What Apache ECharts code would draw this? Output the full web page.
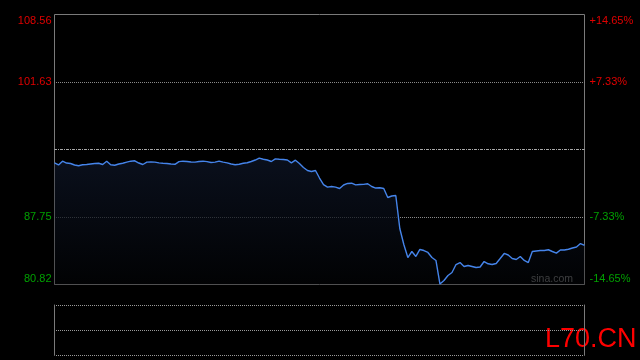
<!DOCTYPE html>
<html><head><meta charset="utf-8">
<script src="https://cdn.jsdelivr.net/npm/echarts@6/dist/echarts.min.js"></script>
<style>html,body{margin:0;padding:0;background:#000}#c{width:640px;height:360px}</style>
</head><body><div id="c"></div>
<script>
const prevClose = 94.69;
const tickStep = 6.935;
const prices = [
93.32, 93.10, 93.49, 93.30, 93.25, 93.10, 93.02, 93.12, 93.15, 93.20,
93.25, 93.28, 93.15, 93.49, 93.12, 93.07, 93.20, 93.28, 93.39, 93.49,
93.53, 93.30, 93.15, 93.39, 93.41, 93.39, 93.32, 93.28, 93.25, 93.20,
93.17, 93.44, 93.49, 93.46, 93.41, 93.39, 93.46, 93.49, 93.44, 93.35,
93.39, 93.49, 93.39, 93.32,
93.20, 93.12, 93.18, 93.28, 93.33, 93.46, 93.61, 93.80, 93.69, 93.61,
93.46, 93.73, 93.69, 93.66, 93.61, 93.32, 93.59, 93.25, 92.84, 92.53,
92.43, 92.53, 91.76, 91.09, 90.82, 90.89, 90.82, 90.68, 91.04, 91.20,
91.23, 91.06, 91.09, 91.11, 91.17, 90.89, 90.73, 90.76, 90.68, 89.76,
89.91, 89.96, 86.57, 84.93, 83.59, 84.21, 83.70, 84.42, 84.31, 84.11,
83.59, 83.29, 80.87, 81.23, 81.75, 82.05, 82.87, 83.08, 82.67, 82.77,
82.67, 82.57, 82.62, 83.18, 82.95, 82.87, 82.98, 83.49, 84.01, 83.85,
83.49, 83.39, 83.70, 83.29, 83.08, 84.21, 84.26, 84.31, 84.31, 84.39,
84.21, 84.04, 84.37, 84.37, 84.44, 84.57, 84.67, 85.03, 84.85
];
const categories = prices.map((_, i) => String(i));
const leftTickLabels = ['80.82', '87.75', '', '101.63', '108.56'];
const rightTickLabels = ['-14.65%', '-7.33%', '', '+7.33%', '+14.65%'];

const RED = '#e00000', GREEN = '#00a000';
const units = prices.map(p => (p - prevClose) / tickStep);

function makeFormatter(labels) {
  return function (v) {
    const i = Math.round(v) + 2;
    const t = labels[i];
    if (!t) return '';
    if (i === 4) return '{top|' + t + '}';
    if (i === 0) return '{bot|' + t + '}';
    return '{' + (i > 2 ? 'r' : 'g') + '|' + t + '}';
  };
}
const labelFont = { fontSize: 11, fontFamily: 'Liberation Sans, Arial, sans-serif' };
const rich = {
  top: Object.assign({ color: RED, padding: [12, 0, 0, 0] }, labelFont),
  bot: Object.assign({ color: GREEN, padding: [0, 0, 12, 0] }, labelFont),
  r: Object.assign({ color: RED }, labelFont),
  g: Object.assign({ color: GREEN }, labelFont)
};

const chart = echarts.init(document.getElementById('c'), null, { renderer: 'canvas' });
chart.setOption({
  backgroundColor: '#000',
  animation: false,
  grid: [
    { left: 54.5, top: 14.5, width: 530, height: 270, show: true, borderColor: '#7a7a7a', borderWidth: 1, backgroundColor: 'transparent' },
    { left: 54.5, top: 305, width: 530, height: 50, show: false }
  ],
  xAxis: [
    { type: 'category', gridIndex: 0, data: categories, boundaryGap: false, axisLine: { show: false }, axisTick: { show: false }, axisLabel: { show: false }, splitLine: { show: false } },
    { type: 'category', gridIndex: 1, data: categories, boundaryGap: false, axisLine: { show: false }, axisTick: { show: false }, axisLabel: { show: false }, splitLine: { show: false } }
  ],
  yAxis: [
    { type: 'value', gridIndex: 0, position: 'left', min: -2, max: 2, interval: 1,
      axisLine: { show: false }, axisTick: { show: false },
      axisLabel: { margin: 3, formatter: makeFormatter(leftTickLabels), rich: rich },
      splitLine: { show: true, lineStyle: { color: ['transparent', '#8a8a8a', 'transparent', '#8a8a8a', 'transparent'], type: [1, 1], dashOffset: 0.5, width: 1 } } },
    { type: 'value', gridIndex: 0, position: 'right', min: -2, max: 2, interval: 1,
      axisLine: { show: false }, axisTick: { show: false },
      axisLabel: { margin: 5, formatter: makeFormatter(rightTickLabels), rich: rich },
      splitLine: { show: false } },
    { type: 'value', gridIndex: 1, position: 'left', min: 0, max: 2, interval: 1,
      axisLine: { show: true, lineStyle: { color: '#7a7a7a', width: 1 } }, axisTick: { show: false }, axisLabel: { show: false },
      splitLine: { show: true, lineStyle: { color: '#9a9a9a', type: [1, 1], dashOffset: 0.5, width: 1 } } },
    { type: 'value', gridIndex: 1, position: 'right', min: 0, max: 2, interval: 1,
      axisLine: { show: true, lineStyle: { color: '#7a7a7a', width: 1 } }, axisTick: { show: false }, axisLabel: { show: false },
      splitLine: { show: false } }
  ],
  series: [
    { type: 'line', xAxisIndex: 0, yAxisIndex: 0, data: units, symbol: 'none', smooth: false,
      lineStyle: { color: '#4584ea', width: 1.4 },
      areaStyle: { origin: 'start', color: new echarts.graphic.LinearGradient(0, 0, 0, 1, [
        { offset: 0, color: '#0e1628' }, { offset: 1, color: '#020305' }]) },
      markLine: { silent: true, symbol: 'none', label: { show: false },
        lineStyle: { color: '#a8a8a8', type: [3, 1, 1, 1], dashOffset: 0.5, width: 1 },
        data: [{ yAxis: 0 }] } }
  ],
  graphic: [
    { type: 'text', x: 573, y: 279, style: { text: 'sina.com', align: 'right', verticalAlign: 'middle', textAlign: 'right', textVerticalAlign: 'middle', fill: '#c0c0c0', font: '10.5px "Liberation Sans", Arial, sans-serif' } },
    { type: 'text', x: 545, y: 340, style: { text: 'L70.CN', align: 'left', verticalAlign: 'middle', textAlign: 'left', textVerticalAlign: 'middle', fill: '#ff0000', font: '27px "Liberation Sans", Arial, sans-serif' } }
  ]
});
</script>
</body></html>
